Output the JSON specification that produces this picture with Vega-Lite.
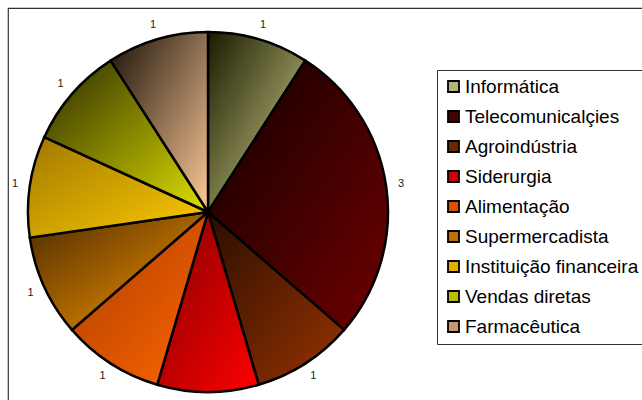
{
  "$schema": "https://vega.github.io/schema/vega-lite/v6.json",
  "autosize": "none",
  "width": 640,
  "height": 400,
  "padding": {"left": 8, "top": 8, "right": 0, "bottom": 0},
  "background": "white",
  "view": {"stroke": "#333333", "strokeWidth": 1.2},
  "config": {
    "view": {"stroke": "#333333", "strokeWidth": 1.2},
    "font": "Liberation Sans"
  },
  "data": {
    "values": [
      {"idx": 1, "setor": "Informática", "valor": 1},
      {"idx": 2, "setor": "Telecomunicalçies", "valor": 3},
      {"idx": 3, "setor": "Agroindústria", "valor": 1},
      {"idx": 4, "setor": "Siderurgia", "valor": 1},
      {"idx": 5, "setor": "Alimentação", "valor": 1},
      {"idx": 6, "setor": "Supermercadista", "valor": 1},
      {"idx": 7, "setor": "Instituição financeira", "valor": 1},
      {"idx": 8, "setor": "Vendas diretas", "valor": 1},
      {"idx": 9, "setor": "Farmacêutica", "valor": 1}
    ]
  },
  "encoding": {
    "theta": {"field": "valor", "type": "quantitative", "stack": true},
    "order": {"field": "idx", "type": "quantitative"}
  },
  "layer": [
    {
      "mark": {"type": "arc", "x": 200, "y": 204, "radius": 180},
      "encoding": {
        "color": {
          "field": "setor",
          "type": "nominal",
          "scale": {
            "domain": ["Informática", "Telecomunicalçies", "Agroindústria", "Siderurgia", "Alimentação", "Supermercadista", "Instituição financeira", "Vendas diretas", "Farmacêutica"],
            "range": ["#b4b478", "#4a0000", "#6a2800", "#d00000", "#d85000", "#c07000", "#e0b000", "#bcbc00", "#c89870"]
          },
          "legend": {
            "title": null,
            "orient": "none",
            "legendX": 429,
            "legendY": 62,
            "padding": 7,
            "strokeColor": "#333333",
            "fillColor": "white",
            "symbolType": "square",
            "symbolSize": 121,
            "symbolStrokeColor": "black",
            "symbolStrokeWidth": 1.8,
            "symbolOpacity": 1,
            "labelFont": "Liberation Sans",
            "labelFontSize": 19,
            "labelColor": "black",
            "labelOffset": 2,
            "labelLimit": 300,
            "rowPadding": 10
          }
        }
      }
    },
    {
      "mark": {"type": "arc", "x": 200, "y": 204, "radius": 180, "stroke": "black", "strokeWidth": 2.5},
      "encoding": {
        "color": {
          "condition": [
            {"test": "datum.idx == 1", "value": {"gradient": "linear", "x1": 0, "y1": 0, "x2": 1, "y2": 1, "stops": [{"offset": 0, "color": "#1a1a00"}, {"offset": 1, "color": "#d8d890"}]}},
            {"test": "datum.idx == 2", "value": {"gradient": "linear", "x1": 0, "y1": 0, "x2": 1, "y2": 1, "stops": [{"offset": 0, "color": "#100000"}, {"offset": 1, "color": "#700000"}]}},
            {"test": "datum.idx == 3", "value": {"gradient": "linear", "x1": 0, "y1": 0, "x2": 1, "y2": 1, "stops": [{"offset": 0, "color": "#2a0e00"}, {"offset": 1, "color": "#993300"}]}},
            {"test": "datum.idx == 4", "value": {"gradient": "linear", "x1": 0, "y1": 0, "x2": 1, "y2": 1, "stops": [{"offset": 0, "color": "#800000"}, {"offset": 1, "color": "#ff0000"}]}},
            {"test": "datum.idx == 5", "value": {"gradient": "linear", "x1": 0, "y1": 0, "x2": 1, "y2": 1, "stops": [{"offset": 0, "color": "#a83c00"}, {"offset": 1, "color": "#ff6600"}]}},
            {"test": "datum.idx == 6", "value": {"gradient": "linear", "x1": 0, "y1": 0, "x2": 1, "y2": 1, "stops": [{"offset": 0, "color": "#4a2a00"}, {"offset": 1, "color": "#ff9900"}]}},
            {"test": "datum.idx == 7", "value": {"gradient": "linear", "x1": 0, "y1": 0, "x2": 1, "y2": 1, "stops": [{"offset": 0, "color": "#a07800"}, {"offset": 1, "color": "#ffcc00"}]}},
            {"test": "datum.idx == 8", "value": {"gradient": "linear", "x1": 0, "y1": 0, "x2": 1, "y2": 1, "stops": [{"offset": 0, "color": "#2a2a00"}, {"offset": 1, "color": "#e0e000"}]}}
          ],
          "value": {"gradient": "linear", "x1": 0, "y1": 0, "x2": 1, "y2": 1, "stops": [{"offset": 0, "color": "#1a1008"}, {"offset": 1, "color": "#ffcc99"}]}
        }
      }
    },
    {
      "mark": {"type": "text", "x": 200, "y": 204, "radius": 195, "fontSize": 11, "color": "#222222", "font": "Liberation Sans"},
      "encoding": {
        "text": {"field": "valor", "type": "quantitative"}
      }
    }
  ]
}
